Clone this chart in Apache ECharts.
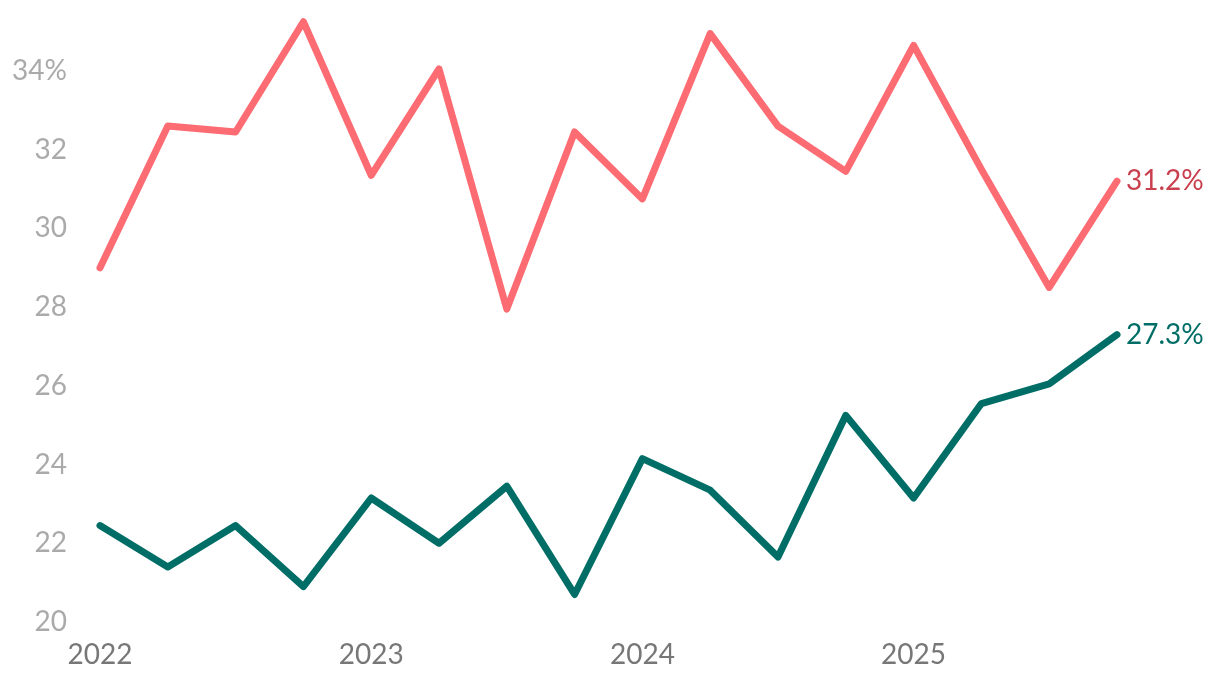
<!DOCTYPE html>
<html><head><meta charset="utf-8">
<script src="https://cdn.jsdelivr.net/npm/echarts@6/dist/echarts.min.js"></script>
<style>html,body{margin:0;padding:0;background:#fff}#c{width:1220px;height:684px}</style>
</head><body><div id="c"></div>
<script>
const quarters = [2022,2022.25,2022.5,2022.75,2023,2023.25,2023.5,2023.75,2024,2024.25,2024.5,2024.75,2025,2025.25,2025.5,2025.75];
const redSeries = [29.0,32.6,32.45,35.25,31.35,34.05,27.95,32.45,30.75,34.95,32.6,31.45,34.65,31.5,28.5,31.2];
const greenSeries = [22.45,21.4,22.45,20.9,23.15,22.0,23.45,20.7,24.15,23.35,21.65,25.25,23.15,25.55,26.05,27.3];
const yTicks = [20,22,24,26,28,30,32,34];
const yearLabels = [2022,2023,2024,2025];

const font = 'Lato, "Noto Sans", sans-serif';
const chart = echarts.init(document.getElementById('c'));
function mk(vals, color, labelColor){
  return {
    type:'line', data: quarters.map((q,i)=>[q,vals[i]]),
    showSymbol:false, symbol:'none',
    lineStyle:{color:color,width:7,cap:'round',join:'round'},
    endLabel:{show:true,formatter:p=>p.value[1].toFixed(1)+'%',color:labelColor,fontSize:28,fontFamily:font,distance:9},
    animation:false
  };
}
chart.setOption({
  animation:false,
  grid:{left:100,right:103,top:8,bottom:62,containLabel:false},
  xAxis:{type:'value',min:2022,max:2025.75,interval:1,
    axisLine:{show:false},axisTick:{show:false},splitLine:{show:false},
    axisLabel:{color:'#777',fontSize:28,fontFamily:font,margin:19,showMaxLabel:false,
      formatter:v=>yearLabels.includes(v)?String(v):''}},
  yAxis:{type:'value',min:20,max:35.6,interval:2,
    axisLine:{show:false},axisTick:{show:false},splitLine:{show:false},
    axisLabel:{color:'#aaa',fontSize:28,fontFamily:font,margin:33,
      formatter:v=>yTicks.includes(v)?(v===34?v+'%':String(v)):''}},
  series:[mk(redSeries,'#fd6b73','#c9404f'),mk(greenSeries,'#006e66','#006e66')]
});
</script></body></html>
